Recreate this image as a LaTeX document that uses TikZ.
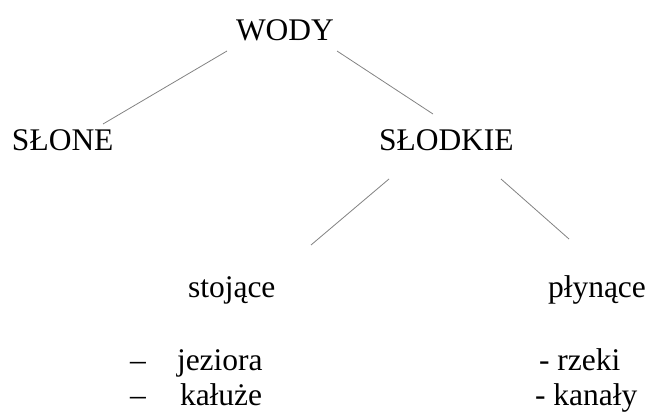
\documentclass[tikz,border=0pt]{standalone}
\usepackage{fontspec}
\setmainfont{Liberation Serif}
\newfontfamily\tnrfont{Liberation Serif}
\begin{document}
\begin{tikzpicture}[x=1pt,y=-1pt,
  lbl/.style={anchor=base west,inner sep=0pt,outer sep=0pt,font=\tnrfont\fontsize{31.5}{36}\selectfont},
  link/.style={draw={rgb,255:red,130;green,130;blue,130},line width=0.8pt}]
\useasboundingbox (0,0) rectangle (649,412);
\node[lbl] (wody) at (236,41) {WODY};
\node[lbl] (slone) at (12,150) {SŁONE};
\node[lbl] (slodkie) at (379,150) {SŁODKIE};
\node[lbl] (stojace) at (188,297) {stojące};
\node[lbl] (plynace) at (548,297) {płynące};
\node[lbl] (d1) at (130,370) {–};
\node[lbl] (jez) at (177,370) {jeziora};
\node[lbl] (d2) at (130,405) {–};
\node[lbl] (kal) at (180,405) {kałuże};
\node[lbl] (rzeki) at (539,370) {- rzeki};
\node[lbl] (kanaly) at (535,405) {- kanały};
\coordinate (w1) at (227,51);
\coordinate (s1) at (103,124);
\coordinate (w2) at (337,51);
\coordinate (s2) at (433,114);
\coordinate (k1) at (389,179);
\coordinate (t1) at (311,245);
\coordinate (k2) at (501,179);
\coordinate (p1) at (569,239);
\draw[link] (w1) -- (s1);
\draw[link] (w2) -- (s2);
\draw[link] (k1) -- (t1);
\draw[link] (k2) -- (p1);
\end{tikzpicture}
\end{document}
